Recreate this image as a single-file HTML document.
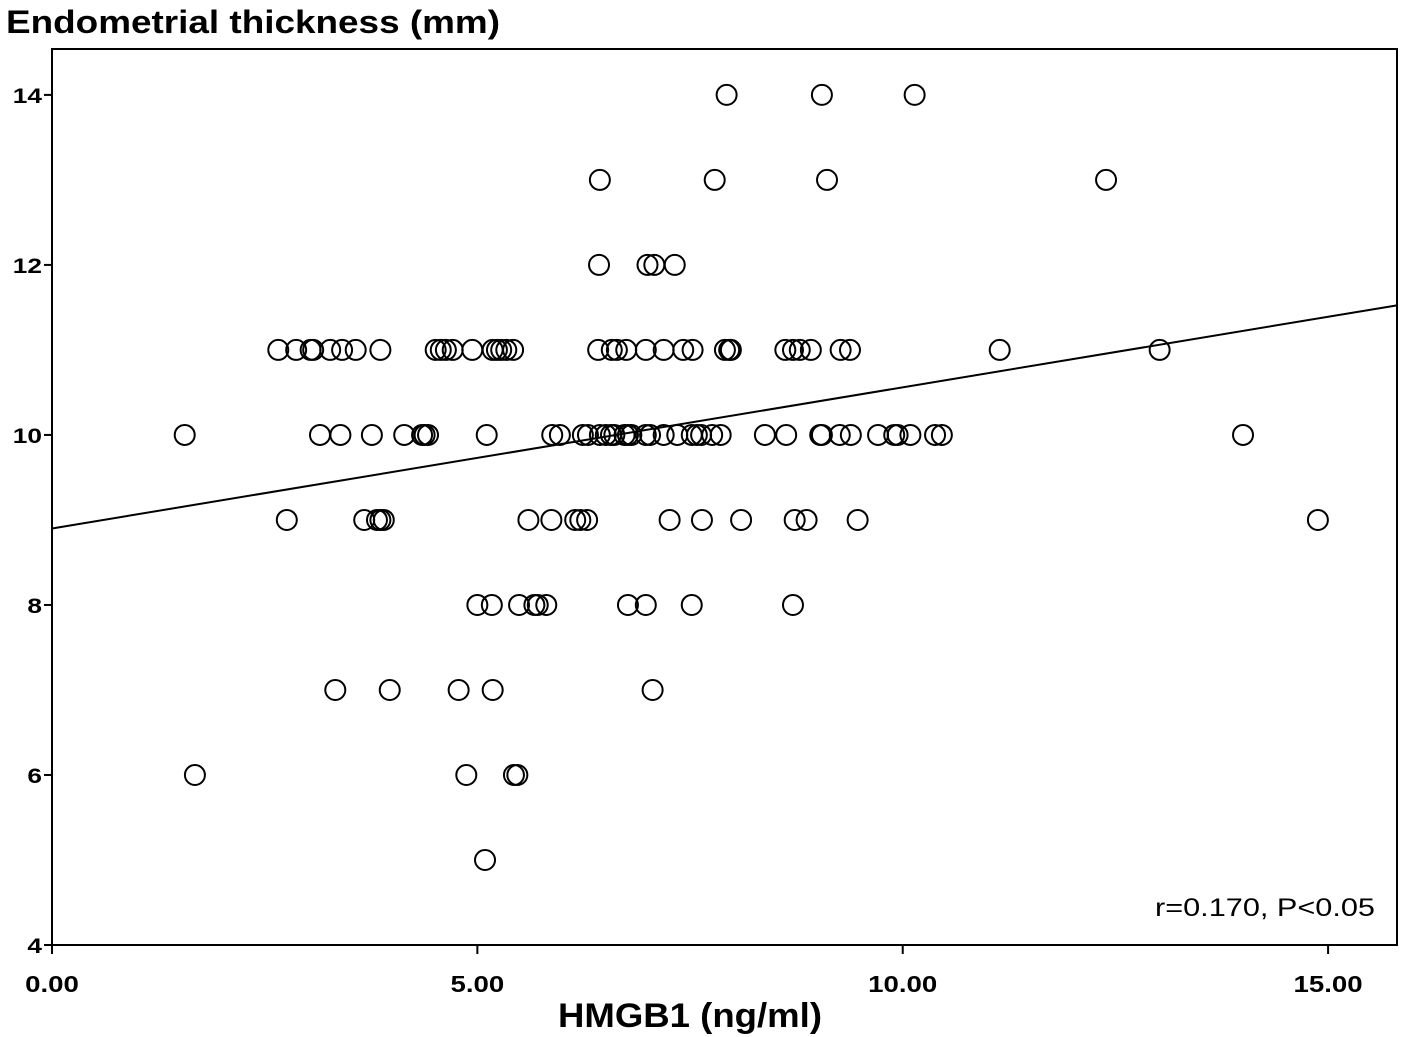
<!DOCTYPE html>
<html><head><meta charset="utf-8"><style>
html,body{margin:0;padding:0;background:#fff;}
svg{display:block;font-family:"Liberation Sans",Arial,sans-serif;}
</style></head><body>
<svg id="chart" width="1402" height="1037" viewBox="0 0 1402 1037" xmlns="http://www.w3.org/2000/svg">
<text x="6" y="33" font-size="32" font-weight="bold" textLength="494" lengthAdjust="spacingAndGlyphs">Endometrial thickness (mm)</text>
<text x="690" y="1027" font-size="34" font-weight="bold" text-anchor="middle" textLength="264" lengthAdjust="spacingAndGlyphs">HMGB1 (ng/ml)</text>
<text x="1375" y="916" font-size="25" text-anchor="end" textLength="220" lengthAdjust="spacingAndGlyphs">r=0.170, P&lt;0.05</text>
<g id="plot"></g>
</svg>
<script>
const yTicks = [4, 6, 8, 10, 12, 14];
const xTicks = [0, 5, 10, 15];
const xTickLabels = ["0.00", "5.00", "10.00", "15.00"];
const yRows = [14, 13, 12, 11, 10, 9, 8, 7, 6, 5];
const xByRow = [
 [7.93, 9.05, 10.14],
 [6.44, 7.79, 9.11, 12.39],
 [6.43, 7.0, 7.08, 7.32],
 [2.66,2.87,3.04,3.07,3.27,3.41,3.57,3.86,4.51,4.57,4.63,4.71,4.94,5.18,5.23,5.28,5.34,5.42,6.42,6.58,6.64,6.75,6.98,7.19,7.42,7.53,7.91,7.96,7.98,8.62,8.71,8.79,8.92,9.27,9.38,11.14,13.02],
 [1.56,3.15,3.39,3.76,4.14,4.35,4.38,4.42,5.11,5.88,5.97,6.24,6.30,6.44,6.51,6.57,6.61,6.73,6.77,6.81,6.98,7.03,7.19,7.35,7.52,7.58,7.63,7.76,7.86,8.38,8.63,9.03,9.05,9.26,9.39,9.71,9.90,9.94,10.09,10.38,10.46,14.0],
 [2.76,3.67,3.82,3.86,3.90,5.60,5.87,6.15,6.21,6.29,7.26,7.64,8.10,8.73,8.87,9.47,14.88],
 [5.00,5.17,5.49,5.67,5.71,5.81,6.77,6.98,7.52,8.71],
 [3.33,3.97,4.78,5.18,7.06],
 [1.68,4.87,5.43,5.47],
 [5.09]
];
const fitLine = [8.9, 0.166]; // intercept, slope

const L=52,R=1397,T=49,B=945;
const xMin=0,xMax=15.81,yMin=4,yMax=14.54;
const sx=v=>L+(v-xMin)/(xMax-xMin)*(R-L);
const sy=v=>B-(v-yMin)/(yMax-yMin)*(B-T);
const NS="http://www.w3.org/2000/svg";
const g=document.getElementById('plot');
function mk(t,a){const e=document.createElementNS(NS,t);for(const k in a)e.setAttribute(k,a[k]);g.appendChild(e);return e;}

let fr=mk('rect',{x:L,y:T,width:R-L,height:B-T,fill:'none',stroke:'#000','stroke-width':2});



yTicks.forEach(v=>{
 const y=sy(v);
 let t=mk('line',{x1:L-8,x2:L,y1:y,y2:y,stroke:'#000','stroke-width':2});
 
 
 let tx=mk('text',{x:L-10,y:y+8,'font-size':21,'font-weight':'bold','text-anchor':'end'});
 tx.textContent=v;
 
 
 tx.setAttribute('textLength',tx.getComputedTextLength()*1.25);
 tx.setAttribute('lengthAdjust','spacingAndGlyphs');
});
xTicks.forEach((v,i)=>{
 const x=sx(v);
 let t=mk('line',{x1:x,x2:x,y1:B,y2:B+9,stroke:'#000','stroke-width':2});
 
 
 let tx=mk('text',{x:x,y:992,'font-size':23,'font-weight':'bold','text-anchor':'middle'});
 tx.textContent=xTickLabels[i];
 
 
 tx.setAttribute('textLength',tx.getComputedTextLength()*1.2);
 tx.setAttribute('lengthAdjust','spacingAndGlyphs');
});

let ln=mk('line',{x1:sx(xMin),y1:sy(fitLine[0]+fitLine[1]*xMin),x2:sx(xMax),y2:sy(fitLine[0]+fitLine[1]*xMax),stroke:'#000','stroke-width':2});



yRows.forEach((yv,ri)=>{
 xByRow[ri].forEach(xv=>{
  let c=mk('circle',{cx:sx(xv),cy:sy(yv),r:10,fill:'none',stroke:'#000','stroke-width':2});
  
  
 });
});
</script>
</body></html>
